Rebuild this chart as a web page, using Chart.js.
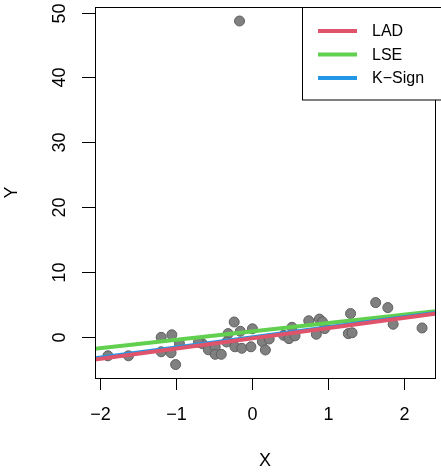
<!DOCTYPE html>
<html>
<head>
<meta charset="utf-8">
<title>LAD vs LSE vs K-Sign</title>
<script src="https://cdn.jsdelivr.net/npm/chart.js@4/dist/chart.umd.min.js"></script>
<style>
  html, body { margin: 0; padding: 0; background: #fff; }
  canvas { display: block; }
</style>
</head>
<body>
<canvas id="fitPlot" width="441" height="472"></canvas>
<script>
// observed points (one big outlier near x = -0.16)
const xValues = [-1.89, -1.62, -1.19, -1.19, -1.05, -1.06, -1.00, -0.95, -0.65, -0.70,
  -0.57, -0.48, -0.48, -0.40, -0.31, -0.33, -0.23, -0.22, -0.15, -0.13,
  -0.01, 0.01, 0.14, 0.23, 0.18, 0.42, 0.49, 0.53, 0.57, 0.75,
  0.85, 0.89, 0.96, 0.93, 1.27, 1.32, 1.30, 1.63, 1.79, 1.86,
  2.24, -0.16];
const yValues = [-2.90, -2.90, -0.05, -2.28, 0.34, -2.43, -4.25, -1.02, -1.02, -0.82,
  -1.97, -1.54, -2.67, -2.67, 0.52, -0.77, 2.31, -1.51, 0.88, -1.74,
  -1.51, 1.26, -0.71, -0.31, -2.00, 0.26, -0.25, 1.49, 0.18, 2.50,
  0.42, 2.76, 1.29, 2.34, 0.52, 0.65, 3.61, 5.30, 4.53, 1.96,
  1.39, 48.7];

// fitted lines y = a + b x
const fitNames = ["LAD", "LSE", "K\u2212Sign"];
const fitIntercepts = [-0.22, 0.86, -0.05];
const fitSlopes = [1.58, 1.29, 1.56];
const fitColors = ["#DF536B", "#61D04F", "#2297E6"];

const xTicks = [-2, -1, 0, 1, 2];
const yTicks = [0, 10, 20, 30, 40, 50];
const xLimits = [-2.06, 2.41];
const yLimits = [-6.32, 50.86];

const axisFont = '18px "Liberation Sans", Arial, sans-serif';
const legendFont = '16px "Liberation Sans", Arial, sans-serif';

function fmt(v) {
  return v < 0 ? "\u2212" + Math.abs(v) : String(v);
}

const points = xValues.map((x, i) => ({ x: x, y: yValues[i] }));

// LAD drawn on top, then K-Sign, then LSE
const drawOrder = [0, 2, 1];
const lineSets = fitNames.map((name, i) => ({
  label: name,
  type: "line",
  data: xLimits.map(x => ({ x: x, y: fitIntercepts[i] + fitSlopes[i] * x })),
  borderColor: fitColors[i],
  borderWidth: 4,
  pointRadius: 0,
  fill: false,
  order: drawOrder[i]
}));

const rLook = {
  id: "rLook",
  afterDraw(chart) {
    const ctx = chart.ctx;
    const a = chart.chartArea;
    const xs = chart.scales.x;
    const ys = chart.scales.y;
    ctx.save();
    ctx.strokeStyle = "#000";
    ctx.lineWidth = 1;
    ctx.strokeRect(a.left + 0.5, a.top + 0.5, a.right - a.left, a.bottom - a.top);

    ctx.fillStyle = "#000";
    ctx.font = axisFont;
    ctx.textAlign = "center";
    ctx.textBaseline = "middle";
    xTicks.forEach(v => {
      const px = Math.round(xs.getPixelForValue(v)) + 0.5;
      ctx.beginPath();
      ctx.moveTo(px, a.bottom);
      ctx.lineTo(px, a.bottom + 12);
      ctx.stroke();
      ctx.fillText(fmt(v), px, 415);
    });
    yTicks.forEach(v => {
      const py = Math.round(ys.getPixelForValue(v)) + 0.5;
      ctx.beginPath();
      ctx.moveTo(a.left - 13, py);
      ctx.lineTo(a.left, py);
      ctx.stroke();
      ctx.save();
      ctx.translate(60, py);
      ctx.rotate(-Math.PI / 2);
      ctx.fillText(fmt(v), 0, 0);
      ctx.restore();
    });

    // axis titles
    ctx.fillText("X", (a.left + a.right) / 2, 461);
    ctx.save();
    ctx.translate(12, (a.top + a.bottom) / 2);
    ctx.rotate(-Math.PI / 2);
    ctx.fillText("Y", 0, 0);
    ctx.restore();

    // legend, top right
    const lx = 302.5, ly = a.top + 0.5;
    ctx.fillStyle = "#fff";
    ctx.fillRect(lx, ly, 200, 100 - ly);
    ctx.strokeRect(lx, ly, 200, 100 - ly);
    ctx.font = legendFont;
    ctx.textAlign = "left";
    ctx.lineWidth = 4;
    fitNames.forEach((name, i) => {
      const y = 31 + i * 23.5;
      ctx.strokeStyle = fitColors[i];
      ctx.beginPath();
      ctx.moveTo(318, y);
      ctx.lineTo(357, y);
      ctx.stroke();
      ctx.fillStyle = "#000";
      ctx.fillText(name, 372, y + 1);
    });
    ctx.restore();
  }
};

new Chart(document.getElementById("fitPlot"), {
  type: "scatter",
  data: {
    datasets: lineSets.concat([{
      label: "data",
      data: points,
      pointRadius: 5,
      pointBackgroundColor: "#808080",
      pointBorderColor: "#5e5e5e",
      pointBorderWidth: 1,
      order: 3
    }])
  },
  options: {
    responsive: false,
    animation: false,
    layout: { padding: { left: 0, right: 1, top: 7, bottom: 0 } },
    plugins: { legend: { display: false }, tooltip: { enabled: false } },
    scales: {
      x: {
        type: "linear",
        min: xLimits[0],
        max: xLimits[1],
        grid: { display: false },
        border: { display: false },
        ticks: { display: false },
        afterFit(scale) { scale.height = 94; }
      },
      y: {
        type: "linear",
        min: yLimits[0],
        max: yLimits[1],
        grid: { display: false },
        border: { display: false },
        ticks: { display: false },
        afterFit(scale) { scale.width = 95; }
      }
    }
  },
  plugins: [rLook]
});
</script>
</body>
</html>
